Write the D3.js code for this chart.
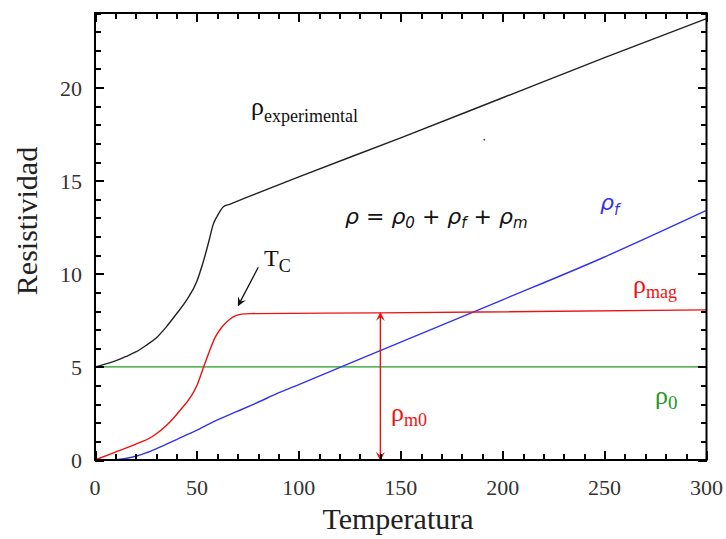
<!DOCTYPE html>
<html>
<head>
<meta charset="utf-8">
<script src="https://cdn.jsdelivr.net/npm/d3@7"></script>
<style>
  body { margin: 0; background: #fff; }
  svg text { font-family: "Liberation Serif", "Times New Roman", serif; }
</style>
</head>
<body>
<div class="main-container"></div>
<script>
// data
var tempExp = [0, 5, 10, 15, 20, 25, 30, 35, 40, 45, 50, 53, 56, 58, 60, 63, 66, 100, 150, 200, 250, 300];
var rhoExp  = [5, 5.15, 5.32, 5.55, 5.8, 6.15, 6.55, 7.15, 7.85, 8.6, 9.6, 10.6, 11.8, 12.65, 13.1, 13.6, 13.73, 15.2, 17.3, 19.45, 21.6, 23.7];

var tempMag = [0, 10, 20, 28, 35, 42, 47, 50, 53, 56, 59, 62, 65, 68, 72, 76, 140, 300];
var rhoMag  = [0, 0.42, 0.85, 1.25, 1.85, 2.7, 3.4, 4.0, 4.9, 5.8, 6.6, 7.1, 7.45, 7.7, 7.83, 7.86, 7.9, 8.06];

var tempPh = [0, 10, 15, 20, 25, 30, 40, 50, 60, 70, 80, 90, 100, 150, 200, 250, 300];
var rhoPh  = [0, 0.02, 0.08, 0.2, 0.38, 0.6, 1.1, 1.6, 2.15, 2.62, 3.1, 3.6, 4.05, 6.33, 8.6, 10.9, 13.4];

var tempRes = [0, 300];
var rhoRes  = [5, 5];

var xTicks = [0, 50, 100, 150, 200, 250, 300];
var yTicks = [0, 5, 10, 15, 20];
var xMinor = d3.range(0, 301, 10);
var yMinor = d3.range(0, 25, 1);

var arrowT = 140, arrowTop = 7.9;

var W = 726, H = 539;
var padL = 95, padR = 706.5, padT = 13, padB = 460;

var x = d3.scaleLinear().domain([0, 300]).range([padL, padR]);
var y = d3.scaleLinear().domain([0, 24]).range([padB, padT]);

var svg = d3.select(".main-container")
    .append("svg")
    .attr("width", W)
    .attr("height", H);

var defs = svg.append("defs");
function marker(id, color) {
    defs.append("marker")
        .attr("id", id)
        .attr("viewBox", "0 0 10 10")
        .attr("refX", 9).attr("refY", 5)
        .attr("markerWidth", 9).attr("markerHeight", 9)
        .attr("markerUnits", "userSpaceOnUse")
        .attr("orient", "auto-start-reverse")
        .append("path")
        .attr("d", "M0,0 L10,5 L0,10 L4,5 Z")
        .style("fill", color);
}
marker("headRed", "#ee1111");
marker("headBlack", "#111");

// curves
function curve(ts, vs, color) {
    var pts = ts.map(function (t, i) { return [t, vs[i]]; });
    svg.append("path")
        .datum(pts)
        .attr("d", d3.line()
            .x(function (d) { return x(d[0]); })
            .y(function (d) { return y(d[1]); })
            .curve(d3.curveMonotoneX))
        .style("fill", "none")
        .style("stroke", color)
        .style("stroke-width", 1.4);
}
curve(tempRes, rhoRes, "#229922");
curve(tempPh, rhoPh, "#3333ee");
curve(tempMag, rhoMag, "#ee1111");
curve(tempExp, rhoExp, "#222");

// rho_m0 arrow
svg.append("line")
    .attr("x1", x(arrowT)).attr("x2", x(arrowT))
    .attr("y1", y(0)).attr("y2", y(arrowTop))
    .attr("marker-start", "url(#headRed)")
    .attr("marker-end", "url(#headRed)")
    .style("stroke", "#ee1111")
    .style("stroke-width", 1.4);

// Tc arrow
svg.append("line")
    .attr("x1", x(80.1)).attr("y1", y(10.35))
    .attr("x2", x(70.3)).attr("y2", y(8.3))
    .attr("marker-end", "url(#headBlack)")
    .style("stroke", "#111")
    .style("stroke-width", 1.3);

svg.append("rect")
    .attr("x", padL).attr("y", padT)
    .attr("width", padR - padL).attr("height", padB - padT)
    .style("fill", "none").style("stroke", "#000").style("stroke-width", 2);

// inward ticks on all four sides, using d3 axes, drawn on top
function tickAxis(axis, tx, ty) {
    var g = svg.append("g")
        .attr("transform", "translate(" + tx + "," + ty + ")")
        .call(axis.tickFormat(""));
    g.select(".domain").remove();
    g.selectAll("line")
        .attr("stroke", "#000")
        .attr("stroke-width", 2)
        .attr("shape-rendering", "crispEdges");
}
tickAxis(d3.axisBottom(x).tickValues(xMinor).tickSize(-6), 0, padB);
tickAxis(d3.axisBottom(x).tickValues(xTicks).tickSize(-9), 0, padB);
tickAxis(d3.axisTop(x).tickValues(xMinor).tickSize(-6), 0, padT);
tickAxis(d3.axisTop(x).tickValues(xTicks).tickSize(-9), 0, padT);
tickAxis(d3.axisLeft(y).tickValues(yMinor).tickSize(-6), padL, 0);
tickAxis(d3.axisLeft(y).tickValues(yTicks).tickSize(-9), padL, 0);
tickAxis(d3.axisRight(y).tickValues(yMinor).tickSize(-6), padR, 0);
tickAxis(d3.axisRight(y).tickValues(yTicks).tickSize(-9), padR, 0);

svg.selectAll(".xl").data(xTicks).enter().append("text")
    .attr("x", function (d) { return x(d); })
    .attr("y", 495)
    .attr("text-anchor", "middle")
    .style("font-size", "22px")
    .style("fill", "#333")
    .text(function (d) { return d; });

svg.selectAll(".yl").data(yTicks).enter().append("text")
    .attr("x", 82)
    .attr("y", function (d) { return y(d) + 8; })
    .attr("text-anchor", "end")
    .style("font-size", "22px")
    .style("fill", "#333")
    .text(function (d) { return d; });

svg.append("text")
    .attr("x", 398).attr("y", 529)
    .attr("text-anchor", "middle")
    .style("font-size", "30px")
    .style("fill", "#222")
    .text("Temperatura");

svg.append("text")
    .attr("transform", "translate(37,221) rotate(-90)")
    .attr("text-anchor", "middle")
    .style("font-size", "30px")
    .style("fill", "#222")
    .text("Resistividad");

// annotations
function label(px, py, main, sub, color, size, subSize, dy) {
    var t = svg.append("text")
        .attr("x", px).attr("y", py)
        .style("font-size", size + "px")
        .style("fill", color);
    t.append("tspan").text(main);
    t.append("tspan").attr("dy", dy).style("font-size", subSize + "px").text(sub);
}
label(251, 115, "ρ", "experimental", "#111", 26, 18, 7);
label(264, 266, "T", "C", "#111", 24, 18, 6);
label(633, 293, "ρ", "mag", "#ee1111", 26, 18, 5);
label(655, 404, "ρ", "0", "#229922", 26, 19, 5);
label(391, 421, "ρ", "m0", "#ee1111", 26, 18, 5);

svg.append("text")
    .attr("x", 600).attr("y", 210)
    .style("font-family", "'DejaVu Sans', sans-serif")
    .style("font-style", "italic")
    .style("font-size", "22px")
    .style("fill", "#3333ee")
    .text("ρ")
    .append("tspan").attr("dy", 5).style("font-size", "15px").text("f");

var eq = svg.append("text")
    .attr("x", 345).attr("y", 224)
    .style("font-family", "'DejaVu Sans', sans-serif")
    .style("font-style", "italic")
    .style("font-size", "22px")
    .style("fill", "#111");
eq.append("tspan").text("ρ = ρ");
eq.append("tspan").attr("dy", 4).style("font-size", "15px").text("0");
eq.append("tspan").attr("dy", -4).text(" + ρ");
eq.append("tspan").attr("dy", 4).style("font-size", "15px").text("f");
eq.append("tspan").attr("dy", -4).text(" + ρ");
eq.append("tspan").attr("dy", 4).style("font-size", "15px").text("m");

// stray dot near the line
svg.append("circle").attr("cx", x(191)).attr("cy", y(17.2)).attr("r", 0.9).style("fill", "#444");
</script>
</body>
</html>
